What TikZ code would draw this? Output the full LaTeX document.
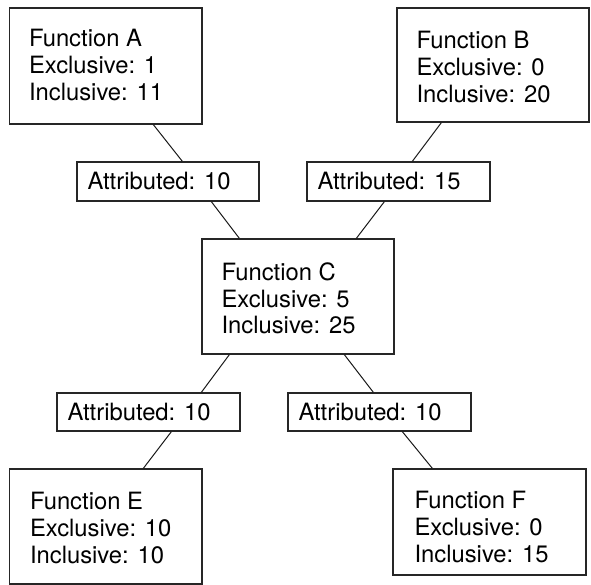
\documentclass[tikz,border=0pt]{standalone}
\usepackage{fontspec}
\setmainfont{TeX Gyre Heros}
\begin{document}
\begin{tikzpicture}[x=1pt,y=-1pt,
  fnbox/.style={draw=black!85,line width=1.3pt,inner sep=0pt,rectangle},
  atbox/.style={draw=black!85,line width=1.3pt,inner sep=0pt,rectangle,minimum height=39pt},
  fntext/.style={anchor=north west,inner sep=0pt,align=left,font=\fontsize{23.8}{26.7}\selectfont},
  attext/.style={anchor=west,inner sep=0pt,font=\fontsize{23.8}{26.7}\selectfont},
  link/.style={draw=black!90,line width=1pt}]
\useasboundingbox (0,0) rectangle (591,585);

% function boxes
\node[fnbox,minimum width=192.5pt,minimum height=116pt] (A) at (105.75,66) {};
\node[fnbox,minimum width=192pt,minimum height=114pt] (B) at (493,65) {};
\node[fnbox,minimum width=192pt,minimum height=115pt] (C) at (298,296.5) {};
\node[fnbox,minimum width=192.5pt,minimum height=115pt] (E) at (105.75,526.5) {};
\node[fnbox,minimum width=193pt,minimum height=106pt] (F) at (489.5,522) {};

\node[fntext] (tA) at ([xshift=20pt,yshift=-22pt]A.north west) {Function A\\Exclusive: 1\\Inclusive: 11};
\node[fntext] (tB) at ([xshift=20pt,yshift=-24pt]B.north west) {Function B\\Exclusive: 0\\Inclusive: 20};
\node[fntext] (tC) at ([xshift=20pt,yshift=-24pt]C.north west) {Function C\\Exclusive: 5\\Inclusive: 25};
\node[fntext] (tE) at ([xshift=21pt,yshift=-24pt]E.north west) {Function E\\Exclusive: 10\\Inclusive: 10};
\node[fntext] (tF) at ([xshift=22pt,yshift=-23pt]F.north west) {Function F\\Exclusive: 0\\Inclusive: 15};

% attribution boxes
\node[atbox,minimum width=182pt] (a1) at (168,181.5) {};
\node[atbox,minimum width=183pt] (a2) at (398.5,181.5) {};
\node[atbox,minimum width=183pt,minimum height=38pt] (a3) at (148.5,412) {};
\node[atbox,minimum width=183pt,minimum height=38pt] (a4) at (379.5,412) {};

\node[attext] (ta1) at ([xshift=11pt]a1.west) {Attributed: 10};
\node[attext] (ta2) at ([xshift=11pt]a2.west) {Attributed: 15};
\node[attext] (ta3) at ([xshift=11pt]a3.west) {Attributed: 10};
\node[attext] (ta4) at ([xshift=11pt]a4.west) {Attributed: 10};

% connectors
\draw[link] ([xshift=144.5pt]A.south west) -- ([xshift=106pt]a1.north west);
\draw[link] ([xshift=135pt]a1.south west) -- ([xshift=38pt]C.north west);
\draw[link] ([xshift=45pt]B.south west) -- ([xshift=106pt]a2.north west);
\draw[link] ([xshift=78pt]a2.south west) -- ([xshift=155pt]C.north west);
\draw[link] ([xshift=28pt]C.south west) -- ([xshift=145pt]a3.north west);
\draw[link] ([xshift=115pt]a3.south west) -- ([xshift=134.5pt]E.north west);
\draw[link] ([xshift=143pt]C.south west) -- ([xshift=86pt]a4.north west);
\draw[link] ([xshift=115pt]a4.south west) -- ([xshift=40pt]F.north west);
\end{tikzpicture}
\end{document}
